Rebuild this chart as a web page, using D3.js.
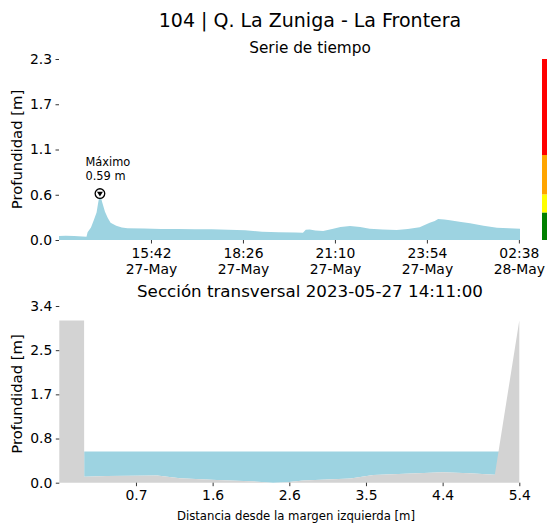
<!DOCTYPE html>
<html><head><meta charset="utf-8">
<script src="https://cdn.jsdelivr.net/npm/d3@7/dist/d3.min.js"></script>
<style>
html,body{margin:0;padding:0;background:#fff;}
text{font-family:"DejaVu Sans",sans-serif;fill:#000;}
</style></head>
<body>
<svg id="c" width="547" height="524"></svg>
<script>
// ---------- DATA ----------
const chartTitle = "104 | Q. La Zuniga - La Frontera";
const seriesTitle = "Serie de tiempo";
const sectionTitle = "Sección transversal 2023-05-27 14:11:00";
const yLabel = "Profundidad [m]";
const xLabelSection = "Distancia desde la margen izquierda [m]";

const seriesTimes = ["2023-05-27 12:58","2023-05-27 13:10","2023-05-27 13:25","2023-05-27 13:40","2023-05-27 13:47",
 "2023-05-27 13:49","2023-05-27 13:55","2023-05-27 14:00","2023-05-27 14:05","2023-05-27 14:08","2023-05-27 14:11",
 "2023-05-27 14:15","2023-05-27 14:20","2023-05-27 14:25","2023-05-27 14:30","2023-05-27 14:40","2023-05-27 14:50",
 "2023-05-27 15:00","2023-05-27 15:30","2023-05-27 16:00","2023-05-27 16:30","2023-05-27 17:00","2023-05-27 17:30",
 "2023-05-27 18:00","2023-05-27 18:30","2023-05-27 19:00","2023-05-27 19:30","2023-05-27 20:00","2023-05-27 20:13",
 "2023-05-27 20:18","2023-05-27 20:25","2023-05-27 20:35","2023-05-27 20:49","2023-05-27 21:05","2023-05-27 21:20",
 "2023-05-27 21:37","2023-05-27 21:55","2023-05-27 22:12","2023-05-27 22:35","2023-05-27 23:00","2023-05-27 23:20",
 "2023-05-27 23:41","2023-05-27 23:50","2023-05-27 23:59","2023-05-28 00:08","2023-05-28 00:14","2023-05-28 00:25",
 "2023-05-28 00:35","2023-05-28 00:55","2023-05-28 01:11","2023-05-28 01:35","2023-05-28 01:59","2023-05-28 02:20",
 "2023-05-28 02:40"];
const seriesDepth = [0.05,0.055,0.05,0.045,0.04,
 0.10,0.16,0.25,0.35,0.48,0.59,
 0.48,0.36,0.28,0.22,0.18,0.16,
 0.15,0.145,0.14,0.14,0.138,0.137,
 0.13,0.125,0.105,0.098,0.095,0.093,
 0.13,0.135,0.12,0.114,0.14,0.165,
 0.178,0.165,0.144,0.135,0.127,0.14,
 0.161,0.19,0.22,0.24,0.267,0.26,
 0.25,0.23,0.212,0.18,0.157,0.15,
 0.144];
const maxTime = "2023-05-27 14:11";
const maxDepth = 0.59;
const maxLabel = ["Máximo", "0.59 m"];

const timeTicks = ["2023-05-27 15:42","2023-05-27 18:26","2023-05-27 21:10","2023-05-27 23:54","2023-05-28 02:38"];
const topYTickLabels = ["0.0","0.6","1.1","1.7","2.3"];
const topYMax = 2.3;

const alertLevels = [0, 0.35, 0.58, 1.08, 2.3];
const alertColors = ["#008000","#ffff00","#ffa500","#ff0000"];

const sectionX = [-0.24, 0.064, 0.065, 0.34, 0.96, 1.24, 1.69, 2.10, 2.38, 2.55, 2.75, 3.33, 3.61, 4.46, 4.79, 5.10, 5.40];
const sectionBed = [3.12, 3.12, 0.115, 0.13, 0.14, 0.085, 0.05, 0.03, 0.0, 0.01, 0.04, 0.08, 0.15, 0.20, 0.18, 0.155, 3.12];
const waterLevel = 0.6;
const secXTicks = [0.70, 1.64, 2.58, 3.52, 4.46, 5.40];
const secXTickLabels = ["0.7","1.6","2.6","3.5","4.4","5.4"];
const secYTickLabels = ["0.0","0.8","1.7","2.5","3.4"];
const secYMax = 3.4;

// ---------- DRAW ----------
const svg = d3.select("#c");
const parse = d3.timeParse("%Y-%m-%d %H:%M");
const blue = "#9dd3e1", gray = "#d3d3d3";
const FS = 13.9;

svg.append("text").attr("x",310).attr("y",27).attr("text-anchor","middle").style("font-size","19px").text(chartTitle);
svg.append("text").attr("x",310).attr("y",53).attr("text-anchor","middle").style("font-size","15.3px").text(seriesTitle);
svg.append("text").attr("x",310).attr("y",297).attr("text-anchor","middle").style("font-size","16.7px").text(sectionTitle);

// ---- top chart
const series = seriesTimes.map((t,i)=>({t:parse(t), v:seriesDepth[i]}));
const x1 = d3.scaleTime().domain([parse(seriesTimes[0]), parse(seriesTimes[seriesTimes.length-1])]).range([59,520]);
const y1 = d3.scaleLinear().domain([0, topYMax]).range([240,59]);

svg.append("path").datum(series)
  .attr("d", d3.area().x(d=>x1(d.t)).y0(y1(0)).y1(d=>y1(d.v)))
  .attr("fill", blue);

const yTicksTop = topYTickLabels.map((l,i)=>i*topYMax/(topYTickLabels.length-1));
svg.append("g").attr("transform","translate(59,0)")
  .call(d3.axisLeft(y1).tickValues(yTicksTop).tickFormat((d,i)=>topYTickLabels[i]).tickSize(3.5).tickPadding(3.5));
const gx1 = svg.append("g").attr("transform","translate(0,240)")
  .call(d3.axisBottom(x1).tickValues(timeTicks.map(parse)).tickFormat(()=>"").tickSize(3.5));
const fmtH = d3.timeFormat("%H:%M"), fmtD = d3.timeFormat("%d-%b");
gx1.selectAll(".tick text").remove();
gx1.selectAll(".tick").each(function(d){
  const g = d3.select(this);
  g.append("text").attr("y",18).attr("text-anchor","middle").text(fmtH(d));
  g.append("text").attr("y",34).attr("text-anchor","middle").text(fmtD(d));
});

svg.append("text").attr("transform","translate(22,149.5) rotate(-90)").attr("text-anchor","middle")
  .style("font-size","14.8px").text(yLabel);

// alert colour bar
for(let i=0;i<alertColors.length;i++){
  svg.append("rect").attr("x",542).attr("width",6)
    .attr("y", y1(alertLevels[i+1])).attr("height", y1(alertLevels[i])-y1(alertLevels[i+1]))
    .attr("fill", alertColors[i]);
}

// max marker
const mx = x1(parse(maxTime)), my = y1(maxDepth);
svg.append("circle").attr("cx",mx).attr("cy",my).attr("r",4.8).attr("fill","#fff").attr("stroke","#000").attr("stroke-width",1.3);
svg.append("path").attr("d",`M${mx-3},${my-1.8}L${mx+3},${my-1.8}L${mx},${my+3}Z`).attr("fill","#000");
maxLabel.forEach((s,i)=>{
  svg.append("text").attr("x",85.5).attr("y",166+i*13.5).style("font-size","11.4px").text(s);
});

// ---- bottom chart
const x2 = d3.scaleLinear().domain([sectionX[0], sectionX[sectionX.length-1]]).range([59.3,519.3]);
const y2 = d3.scaleLinear().domain([0, secYMax]).range([482.7,306]);
const sec = sectionX.map((x,i)=>({x, b:sectionBed[i]}));
const wet = sec.filter(d=>d.x>=sectionX[2]);
svg.append("path").datum(wet)
  .attr("d", d3.area().x(d=>x2(d.x)).y0(d=>y2(Math.min(d.b, waterLevel))).y1(y2(waterLevel)))
  .attr("fill", blue);
svg.append("path").datum(sec)
  .attr("d", d3.area().x(d=>x2(d.x)).y0(y2(0)).y1(d=>y2(d.b)))
  .attr("fill", gray);

const yTicksSec = secYTickLabels.map((l,i)=>i*secYMax/(secYTickLabels.length-1));
svg.append("g").attr("transform","translate(59.3,0)")
  .call(d3.axisLeft(y2).tickValues(yTicksSec).tickFormat((d,i)=>secYTickLabels[i]).tickSize(3.5).tickPadding(3.5));
svg.append("g").attr("transform","translate(0,482.7)")
  .call(d3.axisBottom(x2).tickValues(secXTicks).tickFormat((d,i)=>secXTickLabels[i]).tickSize(3.5).tickPadding(3.5));

svg.append("text").attr("transform","translate(22,394) rotate(-90)").attr("text-anchor","middle")
  .style("font-size","14.8px").text(yLabel);
svg.append("text").attr("x",296).attr("y",520).attr("text-anchor","middle").style("font-size","11.7px").text(xLabelSection);

// axis styling
svg.selectAll(".domain").remove();
svg.selectAll(".tick line").attr("stroke","#000").attr("stroke-width",0.8);
svg.selectAll(".tick text").style("font-size",FS+"px").style("font-family","DejaVu Sans").attr("fill","#000");
</script>
</body></html>
